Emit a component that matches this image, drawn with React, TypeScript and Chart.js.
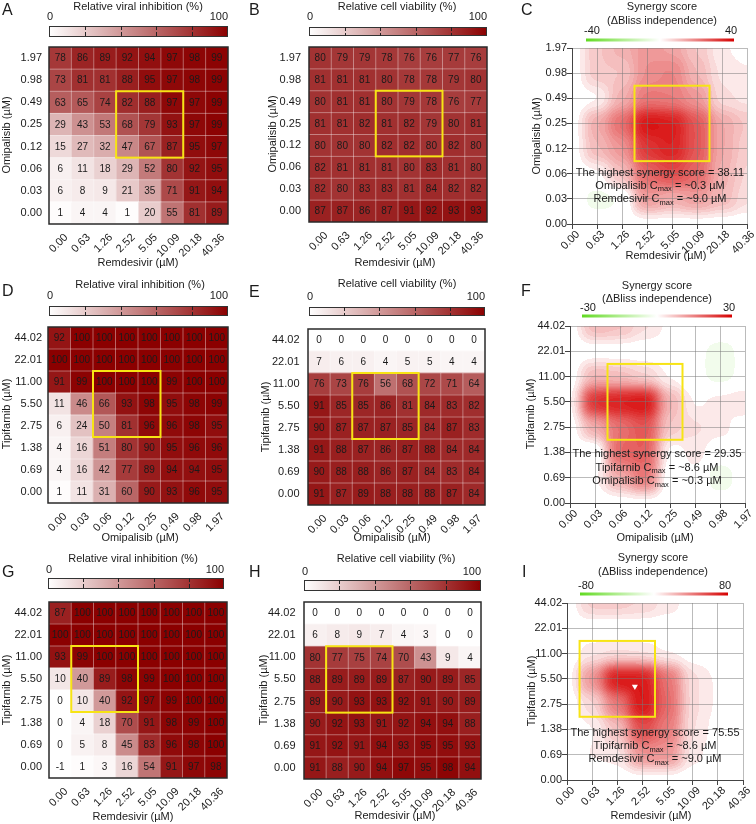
import React, { useEffect, useRef } from "react";
import { Chart, registerables } from "chart.js";

Chart.register(...registerables);

const FONT = "'Liberation Sans', Arial, Helvetica, sans-serif";
const TEXT = "#1b1b1b";
const PAGE_W = 756;
const PAGE_H = 824;
const AXIS_W = 45;
const AXIS_H = 40;

// ---------------- DATA ----------------
// dose labels, ascending (bottom-to-top for y, left-to-right for x)
const remdesivirDoses = ["0.00", "0.63", "1.26", "2.52", "5.05", "10.09", "20.18", "40.36"];
const omipalisibDoses = ["0.00", "0.03", "0.06", "0.12", "0.25", "0.49", "0.98", "1.97"];
const tipifarnibDoses = ["0.00", "0.69", "1.38", "2.75", "5.50", "11.00", "22.01", "44.02"];

// matrices are listed as displayed: first row = highest dose (top row)
const inhibitionRemOmi = [
  [78, 86, 89, 92, 94, 97, 98, 99],
  [73, 81, 81, 88, 95, 97, 98, 99],
  [63, 65, 74, 82, 88, 97, 97, 99],
  [29, 43, 53, 68, 79, 93, 97, 99],
  [15, 27, 32, 47, 67, 87, 95, 97],
  [6, 11, 18, 29, 52, 80, 92, 95],
  [6, 8, 9, 21, 35, 71, 91, 94],
  [1, 4, 4, 1, 20, 55, 81, 89],
];
const viabilityRemOmi = [
  [80, 79, 79, 78, 76, 76, 77, 76],
  [81, 81, 81, 80, 78, 78, 79, 80],
  [80, 81, 81, 80, 79, 78, 76, 77],
  [81, 81, 82, 81, 82, 79, 80, 81],
  [80, 80, 80, 82, 82, 80, 82, 80],
  [82, 81, 81, 81, 80, 83, 81, 80],
  [82, 80, 83, 83, 81, 84, 82, 82],
  [87, 87, 86, 87, 91, 92, 93, 93],
];
const synergyRemOmi = [
  [0, 7, 10, 14, 12, 7, 2, 1],
  [0, 7, 7, 15, 17, 9, 3, 2],
  [0, 1, 10, 19, 18, 14, 4, 3],
  [0, 11, 21, 38, 36, 25, 11, 7],
  [0, 9, 14, 31, 35, 25, 11, 6],
  [0, 1, 8, 22, 27, 22, 10, 5],
  [0, -3, -2, 14, 10, 13, 9, 4],
  [0, 0, 0, 0, 0, 0, 0, 0],
];
const inhibitionOmiTip = [
  [92, 100, 100, 100, 100, 100, 100, 100],
  [100, 100, 100, 100, 100, 100, 100, 100],
  [91, 99, 100, 100, 100, 99, 100, 100],
  [11, 46, 66, 93, 98, 95, 98, 99],
  [6, 24, 50, 81, 96, 96, 98, 95],
  [4, 16, 51, 80, 90, 95, 96, 96],
  [4, 16, 42, 77, 89, 94, 94, 95],
  [1, 11, 31, 60, 90, 93, 96, 95],
];
const viabilityOmiTip = [
  [0, 0, 0, 0, 0, 0, 0, 0],
  [7, 6, 6, 4, 5, 5, 4, 4],
  [76, 73, 76, 56, 68, 72, 71, 64],
  [91, 85, 85, 86, 81, 84, 83, 82],
  [90, 87, 87, 87, 85, 84, 87, 83],
  [91, 88, 87, 86, 87, 88, 84, 84],
  [90, 88, 88, 86, 87, 84, 83, 84],
  [91, 87, 89, 88, 88, 88, 87, 84],
];
const synergyOmiTip = [
  [0, 7, 6, 3, 1, 1, 0, 0],
  [0, 0, 0, 0, 0, -1, -2, -1],
  [0, 7, 6, 4, 1, -1, -2, -1],
  [0, 25, 27, 29, 7, 1, 2, 3],
  [0, 8, 15, 19, 5, 3, 2, 0],
  [0, -2, 17, 18, 0, 2, 0, 1],
  [0, 1, 8, 15, -1, 1, -3, 0],
  [0, 0, 0, 0, 0, 0, 0, 0],
];
const inhibitionRemTip = [
  [87, 100, 100, 100, 100, 100, 100, 100],
  [100, 100, 100, 100, 100, 100, 100, 100],
  [93, 99, 100, 100, 100, 100, 100, 100],
  [10, 40, 89, 98, 99, 100, 100, 100],
  [0, 10, 40, 92, 97, 99, 100, 100],
  [0, 4, 18, 70, 91, 98, 99, 100],
  [0, 5, 8, 45, 83, 96, 98, 100],
  [-1, 1, 3, 16, 54, 91, 97, 98],
];
const viabilityRemTip = [
  [0, 0, 0, 0, 0, 0, 0, 0],
  [6, 8, 9, 7, 4, 3, 0, 0],
  [80, 77, 75, 74, 70, 43, 9, 4],
  [88, 89, 89, 89, 87, 90, 89, 85],
  [89, 90, 93, 93, 92, 91, 90, 89],
  [90, 92, 93, 91, 92, 94, 94, 88],
  [91, 92, 91, 94, 93, 95, 95, 93],
  [91, 88, 90, 94, 97, 95, 98, 94],
];
const synergyRemTip = [
  [0, 13, 13, 11, 6, 1, 0, 0],
  [0, 0, 0, 0, 0, 0, 0, 0],
  [0, 6, 7, 6, 3, 1, 0, 0],
  [0, 29, 76, 74, 40, 8, 3, 2],
  [0, 9, 37, 76, 43, 8, 3, 2],
  [0, 3, 15, 54, 37, 7, 2, 2],
  [0, 4, 5, 29, 29, 5, 1, 2],
  [0, 0, 0, 0, 0, 0, 0, 0],
];

// selected dose ranges (column from, column to, row from, row to; rows counted from dose 0)
const selRemOmi = [3, 5, 3, 5];
const selOmiTip = [2, 4, 3, 5];
const selRemTip = [1, 3, 3, 5];

// colour-scale ranges
const heatScale = [0, 100];
const synergyScaleC = 40;
const synergyScaleF = 30;
const synergyScaleI = 80;

// highest-synergy marker (dose-index coordinates) in panel I
const peakRemTip = [{ x: 2.7, y: 3.7 }];

const notesC = [
  [["The highest synergy score = 38.11", 0]],
  [["Omipalisib C", 0], ["max", 1], [" = ~0.3 µM", 0]],
  [["Remdesivir C", 0], ["max", 1], [" = ~9.0 µM", 0]],
];
const notesF = [
  [["The highest synergy score = 29.35", 0]],
  [["Tipifarnib C", 0], ["max", 1], [" = ~8.6 µM", 0]],
  [["Omipalisib C", 0], ["max", 1], [" = ~0.3 µM", 0]],
];
const notesI = [
  [["The highest synergy score = 75.55", 0]],
  [["Tipifarnib C", 0], ["max", 1], [" = ~8.6 µM", 0]],
  [["Remdesivir C", 0], ["max", 1], [" = ~9.0 µM", 0]],
];

// ---------------- HELPERS ----------------
type Rect = { L: number; T: number; R: number; B: number };

const HEAT_DARK = [139, 0, 0];
function heatRGB(v: number) {
  const t = Math.max(0, Math.min(1, (v - heatScale[0]) / (heatScale[1] - heatScale[0])));
  const c = HEAT_DARK.map((d) => Math.round(255 + (d - 255) * t));
  return `rgb(${c[0]},${c[1]},${c[2]})`;
}
const SYN_RED = [214, 0, 0];
const SYN_GREEN = [96, 218, 32];
function synRGB(t: number, gamma = 1) {
  t = Math.max(-1, Math.min(1, t));
  const c = t >= 0 ? SYN_RED : SYN_GREEN;
  const a = Math.pow(Math.abs(t), gamma);
  return c.map((d) => Math.round(255 + (d - 255) * a));
}

function txt(ctx: CanvasRenderingContext2D, s: string, x: number, y: number, size = 11, align: CanvasTextAlign = "center", baseline: CanvasTextBaseline = "middle", rot = 0) {
  ctx.save();
  ctx.font = `${size}px ${FONT}`;
  ctx.fillStyle = TEXT;
  ctx.textAlign = align;
  ctx.textBaseline = baseline;
  ctx.translate(x, y);
  if (rot) ctx.rotate(rot);
  ctx.fillText(s, 0, 0);
  ctx.restore();
}

function drawNote(ctx: CanvasRenderingContext2D, parts: any[], cx: number, cy: number) {
  ctx.save();
  ctx.fillStyle = TEXT;
  ctx.textBaseline = "middle";
  ctx.textAlign = "left";
  let total = 0;
  const widths = parts.map(([s, sub]) => {
    ctx.font = `${sub ? 7.5 : 11}px ${FONT}`;
    const w = ctx.measureText(s).width;
    total += w;
    return w;
  });
  let x = cx - total / 2;
  parts.forEach(([s, sub], i) => {
    ctx.font = `${sub ? 7.5 : 11}px ${FONT}`;
    ctx.fillText(s, x, cy + (sub ? 3.5 : 0));
    x += widths[i];
  });
  ctx.restore();
}

function fixH(s: any) {
  s.height = AXIS_H;
  s.paddingLeft = 0; s.paddingRight = 0; s.paddingTop = 0; s.paddingBottom = 0;
}
function fixW(s: any) {
  s.width = AXIS_W;
  s.paddingLeft = 0; s.paddingRight = 0; s.paddingTop = 0; s.paddingBottom = 0;
}

function smoothAt(grid: number[][], x: number, y: number, sigma: number) {
  let sw = 0, s = 0;
  const k = 1 / (2 * sigma * sigma);
  for (let j = 0; j < grid.length; j++) {
    for (let i = 0; i < grid[j].length; i++) {
      const d2 = (x - i) * (x - i) + (y - j) * (y - j);
      const w = Math.exp(-d2 * k);
      sw += w;
      s += w * grid[j][i];
    }
  }
  return s / sw;
}

function baseOptions(area: Rect) {
  return {
    responsive: false,
    maintainAspectRatio: false,
    animation: false as const,
    devicePixelRatio: 1,
    events: [] as any[],
    layout: {
      padding: {
        left: area.L - AXIS_W,
        top: area.T,
        right: PAGE_W - area.R,
        bottom: PAGE_H - area.B - AXIS_H,
      },
    },
    plugins: { legend: { display: false }, tooltip: { enabled: false }, title: { display: false } },
  };
}

function drawCommon(ctx: CanvasRenderingContext2D, p: any) {
  txt(ctx, p.letter, p.letterAt[0], p.letterAt[1], 16, "left", "alphabetic");
  txt(ctx, p.xTitle, p.xTitleAt[0], p.xTitleAt[1], 11);
  txt(ctx, p.yTitle, p.yTitleAt[0], p.yTitleAt[1], 11, "center", "middle", -Math.PI / 2);
}

// ---------------- HEATMAP ----------------
function makeHeat(canvas: HTMLCanvasElement, p: any) {
  const nR = p.yLabels.length;
  const nC = p.xLabels.length;
  const rows: number[][] = [...p.values].reverse();
  const datasets = rows.map((row, r) => ({
    data: row.map(() => [r - 0.5, r + 0.5]),
    backgroundColor: row.map(heatRGB),
    borderWidth: 0,
    grouped: false,
    categoryPercentage: 1,
    barPercentage: 1,
  }));
  const extras = {
    id: "heat" + p.letter,
    afterDatasetsDraw(chart: any) {
      const ctx = chart.ctx as CanvasRenderingContext2D;
      const xs = chart.scales.x, ys = chart.scales.y, ca = chart.chartArea;
      const cw = (ca.right - ca.left) / nC;
      ctx.save();
      ctx.strokeStyle = "rgba(255,255,255,0.38)";
      ctx.lineWidth = 1;
      ctx.beginPath();
      for (let c = 1; c < nC; c++) {
        const x = xs.getPixelForValue(c) - cw / 2;
        ctx.moveTo(x, ca.top); ctx.lineTo(x, ca.bottom);
      }
      for (let r = 1; r < nR; r++) {
        const y = ys.getPixelForValue(r - 0.5);
        ctx.moveTo(ca.left, y); ctx.lineTo(ca.right, y);
      }
      ctx.stroke();
      ctx.fillStyle = TEXT;
      ctx.font = `10px ${FONT}`;
      ctx.textAlign = "center";
      ctx.textBaseline = "middle";
      rows.forEach((row, r) =>
        row.forEach((v, c) => ctx.fillText(String(v), xs.getPixelForValue(c), ys.getPixelForValue(r) + 0.5))
      );
      const [c0, c1, r0, r1] = p.sel;
      const x0 = xs.getPixelForValue(c0) - cw / 2;
      const x1 = xs.getPixelForValue(c1) + cw / 2;
      const y0 = ys.getPixelForValue(r1 + 0.5);
      const y1 = ys.getPixelForValue(r0 - 0.5);
      ctx.strokeStyle = "#f7e414";
      ctx.lineWidth = 2;
      ctx.strokeRect(x0, y0, x1 - x0, y1 - y0);
      ctx.strokeStyle = "#2a2a2a";
      ctx.lineWidth = 1.5;
      ctx.strokeRect(ca.left, ca.top, ca.right - ca.left, ca.bottom - ca.top);
      ctx.restore();
    },
    afterDraw(chart: any) {
      const ctx = chart.ctx as CanvasRenderingContext2D;
      const cb = p.cb as Rect;
      ctx.save();
      const g = ctx.createLinearGradient(cb.L, 0, cb.R, 0);
      for (let i = 0; i <= 10; i++) g.addColorStop(i / 10, heatRGB(heatScale[0] + ((heatScale[1] - heatScale[0]) * i) / 10));
      ctx.fillStyle = g;
      ctx.fillRect(cb.L, cb.T, cb.R - cb.L, cb.B - cb.T);
      ctx.strokeStyle = "#333";
      ctx.lineWidth = 1;
      ctx.strokeRect(cb.L + 0.5, cb.T + 0.5, cb.R - cb.L - 1, cb.B - cb.T - 1);
      ctx.setLineDash([4, 2]);
      ctx.strokeStyle = "#222";
      ctx.beginPath();
      for (let k = 1; k < 5; k++) {
        const x = Math.round(cb.L + ((cb.R - cb.L) * k) / 5) + 0.5;
        ctx.moveTo(x, cb.T); ctx.lineTo(x, cb.B);
      }
      ctx.stroke();
      ctx.restore();
      txt(ctx, p.cbTitle, p.cbTitleAt[0], p.cbTitleAt[1], 11);
      txt(ctx, String(heatScale[0]), cb.L + 1, p.cbLabelY, 11);
      txt(ctx, String(heatScale[1]), cb.R, p.cbLabelY, 11, "right");
      drawCommon(ctx, p);
    },
  };
  return new Chart(canvas, {
    type: "bar",
    data: { labels: p.xLabels, datasets: datasets as any },
    options: {
      ...baseOptions(p.area),
      scales: {
        x: {
          type: "category",
          offset: true,
          grid: { display: false, drawTicks: false, tickLength: 0 },
          border: { display: false },
          ticks: { autoSkip: false, minRotation: 45, maxRotation: 45, padding: 7, labelOffset: 6, color: TEXT, font: { family: FONT, size: 11 } },
          afterFit: fixH,
        },
        y: {
          type: "linear",
          min: -0.5,
          max: nR - 0.5,
          grid: { display: false, drawTicks: false, tickLength: 0 },
          border: { display: false },
          afterBuildTicks: (s: any) => { s.ticks = p.yLabels.map((_: string, i: number) => ({ value: i })); },
          ticks: { callback: (v: any) => p.yLabels[v] ?? "", padding: p.yPad, color: TEXT, font: { family: FONT, size: 11 } },
          afterFit: fixW,
        },
      },
    } as any,
    plugins: [extras],
  });
}

// ---------------- SYNERGY MAP ----------------
function makeSyn(canvas: HTMLCanvasElement, p: any) {
  const grid: number[][] = [...p.values].reverse();
  const M = p.cbMax;
  const extras = {
    id: "syn" + p.letter,
    beforeDraw(chart: any) {
      const ctx = chart.ctx as CanvasRenderingContext2D;
      const ca = chart.chartArea, xs = chart.scales.x, ys = chart.scales.y;
      const x0 = Math.round(ca.left), y0 = Math.round(ca.top);
      const w = Math.round(ca.right) - x0, h = Math.round(ca.bottom) - y0;
      const img = ctx.createImageData(w, h);
      const step = M / 22;
      for (let py = 0; py < h; py++) {
        const dy = ys.getValueForPixel(y0 + py + 0.5);
        for (let px = 0; px < w; px++) {
          const dx = xs.getValueForPixel(x0 + px + 0.5);
          const v = smoothAt(grid, dx, dy, 0.4);
          const q = Math.sign(v) * Math.floor(Math.abs(v) / step) * step;
          const c = synRGB(q / M, 0.8);
          const k = (py * w + px) * 4;
          img.data[k] = c[0]; img.data[k + 1] = c[1]; img.data[k + 2] = c[2]; img.data[k + 3] = 255;
        }
      }
      ctx.putImageData(img, x0, y0);
    },
    afterDatasetsDraw(chart: any) {
      const ctx = chart.ctx as CanvasRenderingContext2D;
      const xs = chart.scales.x, ys = chart.scales.y;
      const [c0, c1, r0, r1] = p.sel;
      const x0 = xs.getPixelForValue(c0 - 0.5), x1 = xs.getPixelForValue(c1 + 0.5);
      const y0 = ys.getPixelForValue(r1 + 0.5), y1 = ys.getPixelForValue(r0 - 0.5);
      ctx.save();
      ctx.strokeStyle = "#f7e414";
      ctx.lineWidth = 2;
      ctx.strokeRect(x0, y0, x1 - x0, y1 - y0);
      ctx.restore();
    },
    afterDraw(chart: any) {
      const ctx = chart.ctx as CanvasRenderingContext2D;
      const cb = p.cb as Rect;
      ctx.save();
      const g = ctx.createLinearGradient(cb.L, 0, cb.R, 0);
      for (let i = 0; i <= 20; i++) {
        const c = synRGB(-1 + i / 10);
        g.addColorStop(i / 20, `rgb(${c[0]},${c[1]},${c[2]})`);
      }
      ctx.fillStyle = g;
      ctx.fillRect(cb.L, cb.T, cb.R - cb.L, cb.B - cb.T);
      ctx.restore();
      txt(ctx, "Synergy score", p.titleX, p.titleY[0], 11);
      txt(ctx, "(ΔBliss independence)", p.titleX, p.titleY[1], 11);
      txt(ctx, "-" + M, cb.L + 6, p.cbLabelY, 11);
      txt(ctx, String(M), cb.R - 3, p.cbLabelY, 11);
      p.notes.forEach((parts: any[], i: number) => drawNote(ctx, parts, p.noteX, p.noteY[i]));
      drawCommon(ctx, p);
    },
  };
  const nX = p.xLabels.length, nY = p.yLabels.length;
  const axisCommon = {
    grid: { color: "rgba(120,120,120,0.5)", lineWidth: 1, tickLength: 5, tickColor: "#444" },
    border: { color: "#444", width: 1 },
  };
  return new Chart(canvas, {
    type: "scatter",
    data: {
      datasets: [
        {
          data: p.peak ?? [],
          pointStyle: "triangle",
          rotation: 180,
          radius: 3.5,
          backgroundColor: "#ffffff",
          borderColor: "#ffffff",
          borderWidth: 0,
        },
      ],
    },
    options: {
      ...baseOptions(p.area),
      scales: {
        x: {
          type: "linear",
          min: 0,
          max: nX - 1,
          ...axisCommon,
          afterBuildTicks: (s: any) => { s.ticks = p.xLabels.map((_: string, i: number) => ({ value: i })); },
          ticks: { callback: (v: any) => p.xLabels[v] ?? "", autoSkip: false, minRotation: 45, maxRotation: 45, padding: -1, labelOffset: 6, color: TEXT, font: { family: FONT, size: 11 } },
          afterFit: fixH,
        },
        y: {
          type: "linear",
          min: 0,
          max: nY - 1,
          ...axisCommon,
          afterBuildTicks: (s: any) => { s.ticks = p.yLabels.map((_: string, i: number) => ({ value: i })); },
          ticks: { callback: (v: any) => p.yLabels[v] ?? "", autoSkip: false, padding: 0, color: TEXT, font: { family: FONT, size: 11 } },
          afterFit: fixW,
        },
      },
    } as any,
    plugins: [extras],
  });
}

// ---------------- PANELS ----------------
const VIRAL = "Relative viral inhibition (%)";
const VIAB = "Relative cell viability (%)";
const REM = "Remdesivir (µM)";
const OMI = "Omipalisib (µM)";
const TIP = "Tipifarnib (µM)";

const panels: any[] = [
  { kind: "heat", letter: "A", letterAt: [2, 15], area: { L: 49, T: 47, R: 228, B: 224 }, cb: { L: 49, T: 26, R: 228, B: 37 },
    cbTitle: VIRAL, cbTitleAt: [138, 7], cbLabelY: 17, xLabels: remdesivirDoses, yLabels: omipalisibDoses, values: inhibitionRemOmi,
    xTitle: REM, xTitleAt: [138, 263], yTitle: OMI, yTitleAt: [7, 135], sel: selRemOmi, yPad: 7 },
  { kind: "heat", letter: "B", letterAt: [249, 15], area: { L: 309, T: 47, R: 487, B: 222 }, cb: { L: 309, T: 27, R: 487, B: 36 },
    cbTitle: VIAB, cbTitleAt: [397, 7], cbLabelY: 17, xLabels: remdesivirDoses, yLabels: omipalisibDoses, values: viabilityRemOmi,
    xTitle: REM, xTitleAt: [395, 263], yTitle: OMI, yTitleAt: [273, 134], sel: selRemOmi, yPad: 8 },
  { kind: "syn", letter: "C", letterAt: [521, 15], area: { L: 572, T: 48, R: 747, B: 224 }, cb: { L: 586, T: 38.5, R: 734, B: 41.5 },
    cbMax: synergyScaleC, titleX: 662, titleY: [7.3, 20.7], cbLabelY: 30.7, xLabels: remdesivirDoses, yLabels: omipalisibDoses,
    values: synergyRemOmi, xTitle: REM, xTitleAt: [666, 256], yTitle: OMI, yTitleAt: [537, 136], notes: notesC, noteX: 660,
    noteY: [173.3, 185.7, 199], sel: selRemOmi },
  { kind: "heat", letter: "D", letterAt: [2, 296], area: { L: 48, T: 327, R: 228, B: 503 }, cb: { L: 49, T: 306, R: 228, B: 316 },
    cbTitle: VIRAL, cbTitleAt: [140, 285], cbLabelY: 296, xLabels: omipalisibDoses, yLabels: tipifarnibDoses, values: inhibitionOmiTip,
    xTitle: OMI, xTitleAt: [140, 538], yTitle: TIP, yTitleAt: [7, 414], sel: selOmiTip, yPad: 6 },
  { kind: "heat", letter: "E", letterAt: [249, 297], area: { L: 308, T: 329, R: 485, B: 505 }, cb: { L: 309, T: 307, R: 485, B: 316 },
    cbTitle: VIAB, cbTitleAt: [397, 284], cbLabelY: 297, xLabels: omipalisibDoses, yLabels: tipifarnibDoses, values: viabilityOmiTip,
    xTitle: OMI, xTitleAt: [392, 538], yTitle: TIP, yTitleAt: [266, 417], sel: selOmiTip, yPad: 8.5 },
  { kind: "syn", letter: "F", letterAt: [521, 296], area: { L: 570, T: 326, R: 745, B: 503 }, cb: { L: 582, T: 314.5, R: 732, B: 317.5 },
    cbMax: synergyScaleF, titleX: 657, titleY: [286, 299.3], cbLabelY: 308.3, xLabels: omipalisibDoses, yLabels: tipifarnibDoses,
    values: synergyOmiTip, xTitle: OMI, xTitleAt: [655, 538], yTitle: TIP, yTitleAt: [531, 414], notes: notesF, noteX: 657,
    noteY: [454.3, 467.7, 481], sel: selOmiTip },
  { kind: "heat", letter: "G", letterAt: [2, 576.5], area: { L: 49, T: 602, R: 227, B: 778 }, cb: { L: 48, T: 578, R: 224, B: 589 },
    cbTitle: VIRAL, cbTitleAt: [133, 559], cbLabelY: 570, xLabels: remdesivirDoses, yLabels: tipifarnibDoses, values: inhibitionRemTip,
    xTitle: REM, xTitleAt: [133, 816.5], yTitle: TIP, yTitleAt: [7, 690], sel: selRemTip, yPad: 7 },
  { kind: "heat", letter: "H", letterAt: [249, 577], area: { L: 304, T: 602, R: 481, B: 779 }, cb: { L: 304, T: 580, R: 481, B: 591 },
    cbTitle: VIAB, cbTitleAt: [396, 559], cbLabelY: 571.5, xLabels: remdesivirDoses, yLabels: tipifarnibDoses, values: viabilityRemTip,
    xTitle: REM, xTitleAt: [395, 816], yTitle: TIP, yTitleAt: [264, 690], sel: selRemTip, yPad: 8.5 },
  { kind: "syn", letter: "I", letterAt: [522, 577], area: { L: 567, T: 603, R: 743, B: 780 }, cb: { L: 580, T: 592.5, R: 728, B: 595.5 },
    cbMax: synergyScaleI, titleX: 653, titleY: [558.3, 572.3], cbLabelY: 586, xLabels: remdesivirDoses, yLabels: tipifarnibDoses,
    values: synergyRemTip, xTitle: REM, xTitleAt: [651, 816], yTitle: TIP, yTitleAt: [532, 691], notes: notesI, noteX: 655,
    noteY: [732.7, 746, 759.3], sel: selRemTip, peak: peakRemTip },
];

function Panel({ p }: { p: any }) {
  const ref = useRef<HTMLCanvasElement>(null);
  useEffect(() => {
    const canvas = ref.current!;
    const chart = p.kind === "heat" ? makeHeat(canvas, p) : makeSyn(canvas, p);
    return () => chart.destroy();
  }, [p]);
  return (
    <canvas
      ref={ref}
      width={PAGE_W}
      height={PAGE_H}
      style={{ position: "absolute", left: 0, top: 0, width: PAGE_W, height: PAGE_H, pointerEvents: "none" }}
    />
  );
}

export default function App() {
  return (
    <div style={{ position: "absolute", left: 0, top: 0, width: PAGE_W, height: PAGE_H, background: "#fff", overflow: "hidden" }}>
      {panels.map((p) => (
        <Panel key={p.letter} p={p} />
      ))}
    </div>
  );
}
